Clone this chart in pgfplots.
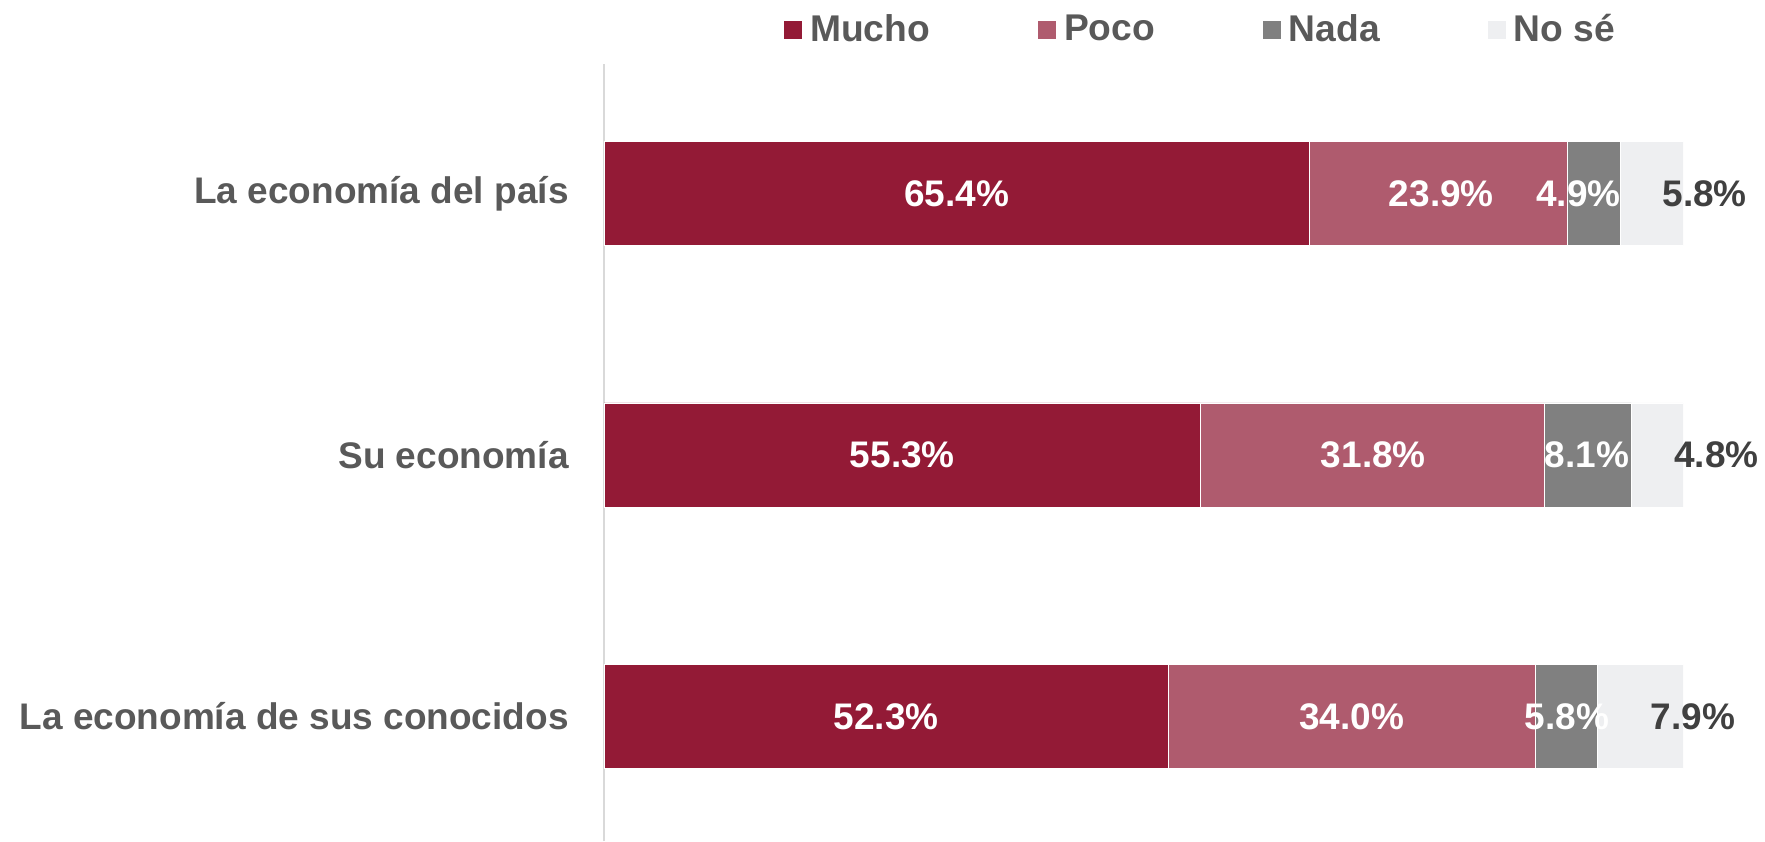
\documentclass[border=0pt]{standalone}
\usepackage{pgfplots}
\pgfplotsset{compat=1.18}
\usepackage{fontspec}
\setmainfont{Liberation Sans}
\definecolor{cMucho}{HTML}{931A36}
\definecolor{cPoco}{HTML}{AF5B6E}
\definecolor{cNada}{HTML}{808080}
\definecolor{cNose}{HTML}{EEEFF1}
\definecolor{txtgray}{HTML}{595959}
\definecolor{darklbl}{HTML}{404040}
\definecolor{axgray}{HTML}{D9D9D9}
\begin{document}
\begin{tikzpicture}
\path[use as bounding box] (0pt,0pt) rectangle (882.5pt,420.5pt);
\pgfplotsset{
  common/.style={
    at={(302pt,0pt)}, anchor=south west,
    scale only axis, width=539.5pt, height=388.5pt,
    xmin=0, xmax=100, ymin=-0.476, ymax=2.495,
  }
}
\begin{axis}[common,
  xbar stacked, bar width=52pt,
  axis x line=none,
  axis y line*=left,
  y axis line style={draw=axgray, line width=1pt},
  ytick={0,1,2},
  yticklabels={La economía de sus conocidos, Su economía, La economía del país},
  major tick length=0pt,
  yticklabel style={font=\fontsize{18.5}{20}\selectfont\bfseries, text=txtgray, inner sep=0pt, xshift=-17.5pt},
  legend columns=-1,
  legend style={draw=none, fill=none, inner sep=0pt, at={(0.1659,1.0446)}, anchor=west,
    font=\fontsize{18.6}{20}\selectfont\bfseries, text=txtgray,
    /tikz/every odd column/.append style={column sep=1.6pt},
    /tikz/every even column/.append style={column sep=51.6pt}},
  legend image code/.code={\fill[#1] (0pt,-4.75pt) rectangle (9.5pt,4.75pt);},
]
\addplot[fill=cMucho, draw=white, line width=0.3pt] coordinates {(52.3,0) (55.3,1) (65.4,2)};
\addplot[fill=cPoco, draw=white, line width=0.3pt] coordinates {(34.0,0) (31.8,1) (23.9,2)};
\addplot[fill=cNada, draw=white, line width=0.3pt] coordinates {(5.8,0) (8.1,1) (4.9,2)};
\addplot[fill=cNose, draw=white, line width=0.3pt] coordinates {(7.9,0) (4.8,1) (5.8,2)};
\legend{Mucho, Poco, Nada, No sé}
\end{axis}
\begin{axis}[common, hide axis, clip=false,
  nodes near coords={\pgfplotspointmeta\%},
  point meta=explicit symbolic,
  every node near coord/.append style={anchor=center, font=\fontsize{18.5}{20}\selectfont\bfseries},
]
\addplot[draw=none, mark=none, every node near coord/.append style={text=white}] table[x=x, y=y, meta=l] {
x y l
32.7 2 65.4
77.6 2 23.9
90.3 2 4.9
27.65 1 55.3
71.3 1 31.8
91.1 1 8.1
26.15 0 52.3
69.3 0 34.0
89.25 0 5.8
};
\addplot[draw=none, mark=none, every node near coord/.append style={text=darklbl}] table[x=x, y=y, meta=l] {
x y l
102.0 2 5.8
103.1 1 4.8
100.9 0 7.9
};
\end{axis}
\end{tikzpicture}
\end{document}
